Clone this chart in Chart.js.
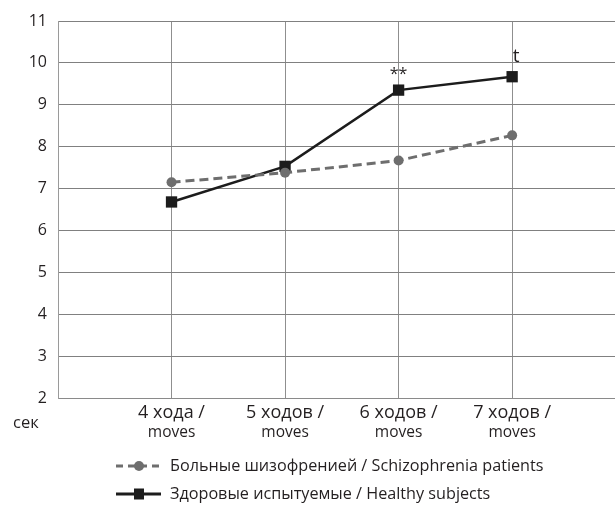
<!DOCTYPE html>
<html>
<head>
<meta charset="utf-8">
<script src="https://cdn.jsdelivr.net/npm/chart.js@4/dist/chart.umd.min.js"></script>
<style>
html,body{margin:0;padding:0;background:#fff;}
#wrap{position:relative;width:615px;height:507px;}
</style>
</head>
<body>
<div id="wrap"><canvas id="c" width="615" height="507"></canvas></div>
<script>
const categoriesTop = ['4 хода /', '5 ходов /', '6 ходов /', '7 ходов /'];
const categoriesBottom = ['moves', 'moves', 'moves', 'moves'];
const schizophrenia = [7.15, 7.38, 7.67, 8.27];
const healthy = [6.68, 7.53, 9.35, 9.67];
const annotations = ['', '', '**', 't'];
const yTicks = [2, 3, 4, 5, 6, 7, 8, 9, 10, 11];
const seriesNames = ['Больные шизофренией / Schizophrenia patients', 'Здоровые испытуемые / Healthy subjects'];
const yUnit = 'сек';

const FONT = '"Open Sans", sans-serif';
const GRAY = '#6e6e6e';
const DARK = '#1c1c1c';
const TEXT = '#231f20';

const toPts = arr => arr.map((v, i) => ({x: i + 1, y: v}));

const customDraw = {
  id: 'customDraw',
  afterDraw(chart) {
    const ctx = chart.ctx;
    const xs = chart.scales.x, ys = chart.scales.y;
    ctx.save();
    ctx.fillStyle = TEXT;
    ctx.textAlign = 'center';
    ctx.textBaseline = 'middle';
    categoriesTop.forEach((t, i) => {
      const px = xs.getPixelForValue(i + 1);
      ctx.font = '18px ' + FONT;
      ctx.fillText(t, px, 413);
      ctx.font = '15.5px ' + FONT;
      ctx.fillText(categoriesBottom[i], px, 433);
    });
    ctx.font = '16.5px ' + FONT;
    ctx.textAlign = 'left';
    ctx.fillText(yUnit, 13, 423);
    // annotations above healthy points
    annotations.forEach((a, i) => {
      if (!a) return;
      const px = xs.getPixelForValue(i + 1);
      const py = ys.getPixelForValue(healthy[i]);
      ctx.textAlign = 'center';
      if (a === 't') {
        ctx.font = '19px ' + FONT;
        ctx.fillText(a, px + 4, py - 20);
      } else {
        ctx.font = '16px ' + FONT;
        ctx.fillText(a, px, py - 16);
      }
    });
    // legend
    const lx0 = 116, lx1 = 161, lm = 139;
    const rows = [466, 494];
    ctx.strokeStyle = GRAY; ctx.lineWidth = 3; ctx.setLineDash([7, 5]);
    ctx.beginPath(); ctx.moveTo(lx0, rows[0]); ctx.lineTo(lx1, rows[0]); ctx.stroke();
    ctx.setLineDash([]);
    ctx.fillStyle = GRAY; ctx.beginPath(); ctx.arc(lm, rows[0], 5, 0, Math.PI * 2); ctx.fill();
    ctx.strokeStyle = DARK; ctx.lineWidth = 3;
    ctx.beginPath(); ctx.moveTo(lx0, rows[1]); ctx.lineTo(lx1, rows[1]); ctx.stroke();
    ctx.fillStyle = DARK; ctx.fillRect(lm - 5, rows[1] - 5.5, 10, 11);
    ctx.fillStyle = TEXT;
    ctx.font = '16.2px ' + FONT;
    ctx.textAlign = 'left';
    ctx.fillText(seriesNames[0], 170, rows[0]);
    ctx.fillText(seriesNames[1], 170, rows[1]);
    ctx.restore();
  }
};

new Chart(document.getElementById('c'), {
  type: 'line',
  data: {
    datasets: [
      {
        label: seriesNames[0],
        data: toPts(schizophrenia),
        borderColor: GRAY,
        backgroundColor: GRAY,
        borderWidth: 3,
        borderDash: [9, 5],
        pointStyle: 'circle',
        pointRadius: 5,
        pointBorderWidth: 0,
        tension: 0
      },
      {
        label: seriesNames[1],
        data: toPts(healthy),
        borderColor: DARK,
        backgroundColor: DARK,
        borderWidth: 2.5,
        pointStyle: 'rect',
        pointRadius: 8,
        pointBorderWidth: 0,
        tension: 0
      }
    ]
  },
  options: {
    responsive: false,
    animation: false,
    layout: {autoPadding: false, padding: {top: 21, right: 0, left: 0, bottom: 0}},
    plugins: {legend: {display: false}, tooltip: {enabled: false}},
    scales: {
      x: {
        type: 'linear',
        min: 0,
        max: 4.906,
        afterFit: s => { s.height = 109; },
        ticks: {display: false, stepSize: 1},
        border: {display: true, color: '#8a8a8a', width: 1},
        grid: {
          drawTicks: false,
          lineWidth: 1,
          color: c => (c.tick && c.tick.value >= 1 && c.tick.value <= 4) ? '#8f8f8f' : 'rgba(0,0,0,0)'
        }
      },
      y: {
        min: yTicks[0],
        max: yTicks[yTicks.length - 1],
        afterFit: s => { s.width = 58; },
        afterBuildTicks: s => { s.ticks = yTicks.map(v => ({value: v})); },
        ticks: {color: TEXT, font: {family: FONT, size: 16}, padding: 11},
        border: {display: true, color: '#9a9a9a', width: 1},
        grid: {drawTicks: false, color: '#808080', lineWidth: 1}
      }
    }
  },
  plugins: [customDraw]
});
</script>
</body>
</html>
